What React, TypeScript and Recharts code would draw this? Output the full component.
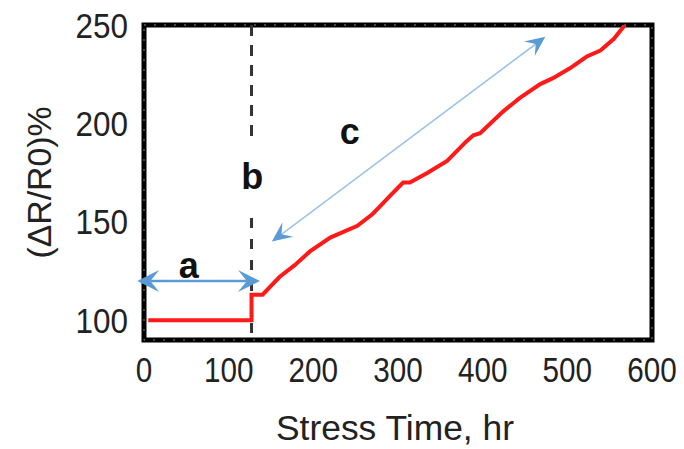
import React from 'react';
import {
  ComposedChart,
  Line,
  XAxis,
  YAxis,
  ReferenceArea,
  ReferenceLine,
  ReferenceDot,
} from 'recharts';

// Resistance shift under stress (ΔR/R0 in %), sampled along stress time in hours
const stressHours = [5, 127, 127, 140, 160, 178, 196, 220, 252, 270, 279, 290, 306, 314, 335, 358, 381, 389, 397, 424, 444, 468, 483, 503, 523, 539, 555, 568];
const resistanceShift = [100, 100, 113, 113, 122, 128, 135, 142, 148, 154, 158, 163, 170, 170, 175, 181, 191, 194, 195, 206, 213, 220, 223, 228, 234, 237, 243, 250];

const xTicks = [0, 100, 200, 300, 400, 500, 600];
const yTicks = [100, 150, 200, 250];
const xDomain: [number, number] = [0, 600];
const yDomain: [number, number] = [90, 250];

// Phase boundary (b) and the annotated ranges a and c
const phaseBoundary = 127;
const phaseA = { from: -8, to: 137, level: 120 };
const phaseC = { from: [151, 140], to: [474, 244] };
const phaseLabels = [
  { text: 'a', x: 53, y: 128 },
  { text: 'b', x: 128, y: 173 },
  { text: 'c', x: 243, y: 196 },
];

const series = stressHours.map((h, i) => ({ hours: h, shift: resistanceShift[i] }));

const FONT = "'Liberation Sans', Arial, sans-serif";
const TEXT = '#222';

const XTick = (props: any) => {
  const { x, y, payload } = props;
  const s = String(payload.value);
  return (
    <text x={x} y={y + 42} textAnchor="middle" fontSize={35} fontFamily={FONT} fill={TEXT}
      textLength={s.length * 16.5} lengthAdjust="spacingAndGlyphs">
      {s}
    </text>
  );
};

const YTick = (props: any) => {
  const { x, y, payload } = props;
  const s = String(payload.value);
  return (
    <text x={x - 16} y={y + 12.5} textAnchor="end" fontSize={35} fontFamily={FONT} fill={TEXT}
      textLength={s.length * 17.5} lengthAdjust="spacingAndGlyphs">
      {s}
    </text>
  );
};

// Stealth-style arrowhead with its tip at (tx, ty), pointing away from (fx, fy)
const head = (tx: number, ty: number, fx: number, fy: number, len: number, wid: number, fill: string) => {
  const dx = tx - fx;
  const dy = ty - fy;
  const d = Math.hypot(dx, dy) || 1;
  const ux = dx / d;
  const uy = dy / d;
  const px = -uy;
  const py = ux;
  const bx = tx - ux * len;
  const by = ty - uy * len;
  const nx = tx - ux * len * 0.6;
  const ny = ty - uy * len * 0.6;
  const pts = [
    [tx, ty],
    [bx + px * wid / 2, by + py * wid / 2],
    [nx, ny],
    [bx - px * wid / 2, by - py * wid / 2],
  ].map((p) => p.join(',')).join(' ');
  return <polygon points={pts} fill={fill} />;
};

const doubleArrow = (lineColor: string, lineWidth: number, headColor: string, len: number, wid: number) =>
  (props: any) => {
    const { x1, y1, x2, y2 } = props;
    const d = Math.hypot(x2 - x1, y2 - y1) || 1;
    const ux = (x2 - x1) / d;
    const uy = (y2 - y1) / d;
    const inset = len * 0.6;
    return (
      <g>
        <line x1={x1 + ux * inset} y1={y1 + uy * inset} x2={x2 - ux * inset} y2={y2 - uy * inset}
          stroke={lineColor} strokeWidth={lineWidth} />
        {head(x1, y1, x2, y2, len, wid, headColor)}
        {head(x2, y2, x1, y1, len, wid, headColor)}
      </g>
    );
  };

const letter = (text: string) => (props: any) => (
  <text x={props.cx} y={props.cy} textAnchor="middle" dominantBaseline="central"
    fontSize={36} fontWeight="bold" fontFamily={FONT} fill="#111">
    {text}
  </text>
);

const YLabel = (props: any) => {
  const { viewBox } = props;
  const cx = 39;
  const cy = viewBox.y + viewBox.height / 2;
  return (
    <text x={cx} y={cy} transform={`rotate(-90 ${cx} ${cy})`} textAnchor="middle" dominantBaseline="central"
      fontSize={33} fontFamily={FONT} fill={TEXT} textLength={152} lengthAdjust="spacingAndGlyphs">
      (ΔR/R0)%
    </text>
  );
};

const XLabel = (props: any) => {
  const { viewBox } = props;
  const cx = viewBox.x + viewBox.width / 2 - 3;
  return (
    <text x={cx} y={440} textAnchor="middle" fontSize={35} fontFamily={FONT} fill={TEXT}
      textLength={238} lengthAdjust="spacingAndGlyphs">
      Stress Time, hr
    </text>
  );
};

export default function App() {
  return (
    <div style={{ position: 'absolute', left: 0, top: 0, width: 684, height: 449, background: '#fff' }}>
      <ComposedChart width={684} height={449} data={series}
        margin={{ top: 25, right: 32, bottom: 0, left: 0 }}>
        <XAxis dataKey="hours" type="number" domain={xDomain} ticks={xTicks} allowDataOverflow
          axisLine={false} tickLine={false} tickSize={0} tickMargin={0} height={109}
          tick={<XTick />} label={<XLabel />} />
        <YAxis type="number" domain={yDomain} ticks={yTicks} allowDataOverflow
          axisLine={false} tickLine={false} tickSize={0} tickMargin={0} width={144}
          tick={<YTick />} label={<YLabel />} />

        <ReferenceLine segment={[{ x: phaseBoundary, y: 250 }, { x: phaseBoundary, y: 193 }]}
          stroke="#333" strokeWidth={3} strokeDasharray="11 9" ifOverflow="visible" />
        <ReferenceLine segment={[{ x: phaseBoundary, y: 152 }, { x: phaseBoundary, y: 90 }]}
          stroke="#333" strokeWidth={3} strokeDasharray="10 11" ifOverflow="visible" />

        <Line dataKey="shift" type="linear" stroke="#ff1a1a" strokeWidth={4} dot={false}
          isAnimationActive={false} />

        <ReferenceArea x1={xDomain[0]} x2={xDomain[1]} y1={yDomain[0]} y2={yDomain[1]}
          fill="none" stroke="#000" strokeWidth={5} ifOverflow="visible" />
        <ReferenceArea x1={xDomain[0]} x2={xDomain[1]} y1={yDomain[0]} y2={yDomain[1]}
          fill="none" stroke="#8a8a8a" strokeWidth={1} strokeDasharray="2 8" ifOverflow="visible" />

        <ReferenceLine segment={[{ x: phaseA.from, y: phaseA.level }, { x: phaseA.to, y: phaseA.level }]}
          ifOverflow="visible" shape={doubleArrow('#5b9bd5', 2.5, '#5b9bd5', 22, 22)} />
        <ReferenceLine segment={[{ x: phaseC.from[0], y: phaseC.from[1] }, { x: phaseC.to[0], y: phaseC.to[1] }]}
          ifOverflow="visible" shape={doubleArrow('#9dc3e6', 1.6, '#5b9bd5', 20, 18)} />

        {phaseLabels.map((l) => (
          <ReferenceDot key={l.text} x={l.x} y={l.y} r={0} ifOverflow="visible" shape={letter(l.text)} />
        ))}
      </ComposedChart>
    </div>
  );
}
